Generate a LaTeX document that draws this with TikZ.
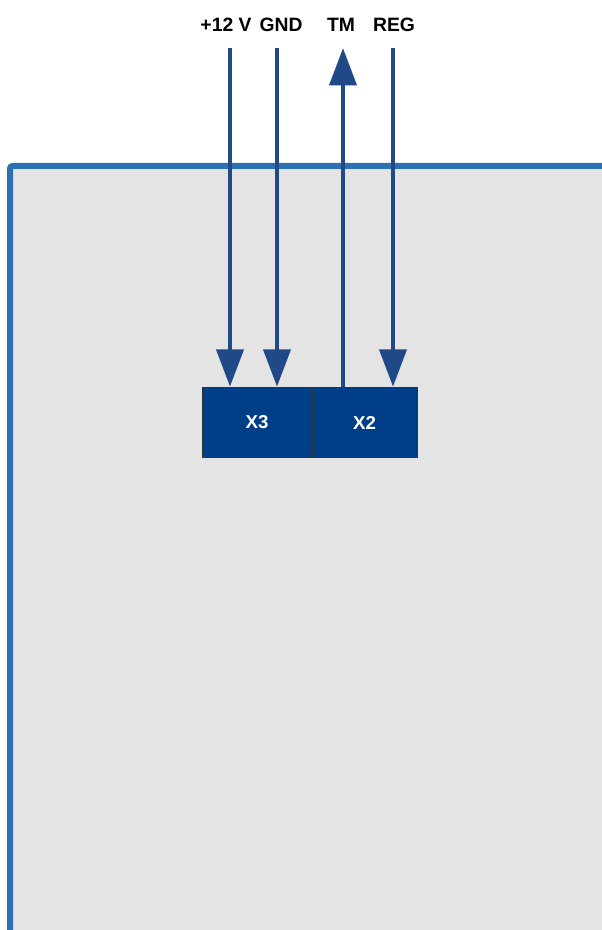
\documentclass[tikz,border=0pt]{standalone}
\usepackage{fontspec}
\setmainfont{Liberation Sans}
\usetikzlibrary{arrows.meta}
\definecolor{panelgray}{HTML}{E4E4E4}
\definecolor{panelblue}{HTML}{2F6FB3}
\definecolor{wireblue}{HTML}{1F4A87}
\definecolor{boxblue}{HTML}{003F88}
\tikzset{
  sig/.style={line width=3.6pt, draw=wireblue, -{Triangle[length=28pt,width=20pt]}},
  sigrev/.style={line width=3.6pt, draw=wireblue, {Triangle[length=28pt,width=20pt]}-},
  pinlab/.style={font=\bfseries\fontsize{14.5}{16}\selectfont, inner sep=0pt},
  conn/.style={draw=black!80, fill=boxblue, line width=0.6pt, text=white,
    font=\bfseries\fontsize{14}{16}\selectfont, minimum height=53pt, inner sep=0pt}
}
\begin{document}
\begin{tikzpicture}[x=0.75pt,y=-0.75pt]
    \useasboundingbox (0,0) rectangle (601,930);
    % panel
    \fill[panelgray] (10,166) rectangle (605,935);
    \draw[panelblue, line width=4.5pt, rounded corners=2pt] (10,935) -- (10,166) -- (605,166);
    % connectors
    \node[conn, minimum width=82.5pt] (x3) at (257,422.5) {X3};
    \node[conn, minimum width=78.75pt] (x2) at (364.5,422.5) {X2};
    % signals
    \node[pinlab] (l12) at (226,25) {+12 V};
    \node[pinlab] (lgnd) at (281,25) {GND};
    \node[pinlab] (ltm) at (341,25) {TM};
    \node[pinlab] (lreg) at (394,25) {REG};
    \coordinate (p1) at (230,48);
    \coordinate (p2) at (277,48);
    \coordinate (p3) at (343,48);
    \coordinate (p4) at (393,48);
    \draw[sig] (p1) -- (p1 |- x3.north);
    \draw[sig] (p2) -- (p2 |- x3.north);
    \draw[sigrev] (p3) -- (p3 |- x2.north);
    \draw[sig] (p4) -- (p4 |- x2.north);
\end{tikzpicture}
\end{document}
